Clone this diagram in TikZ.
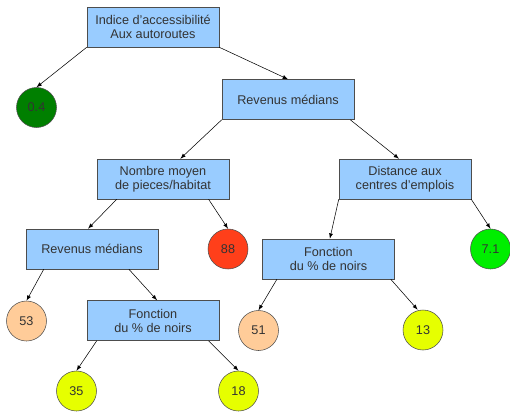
\documentclass[tikz,border=0pt]{standalone}
\usepackage{fontspec}
\setmainfont{Liberation Sans}
\usepackage{xcolor}
\usetikzlibrary{arrows}

\definecolor{boxblue}{HTML}{99CCFF}
\definecolor{linegray}{HTML}{4D4D4D}
\definecolor{textgray}{HTML}{333333}
\definecolor{darkleaf}{HTML}{007F00}
\definecolor{redleaf}{HTML}{FF3F1A}
\definecolor{greenleaf}{HTML}{00EE00}
\definecolor{peachleaf}{HTML}{FFCC99}
\definecolor{yellowleaf}{HTML}{E6FF00}

\tikzset{
  test/.style={draw=linegray, fill=boxblue, text=textgray, minimum width=99pt,
    minimum height=30pt, inner sep=0pt, align=center,
    font=\fontsize{9.5}{10.5}\selectfont},
  leaf/.style={circle, draw=linegray, text=textgray, minimum size=30pt,
    inner sep=0pt, font=\fontsize{9.5}{10.5}\selectfont},
}

\begin{document}
\begin{tikzpicture}[x=0.75pt,y=-0.75pt]
		\useasboundingbox (0,0) rectangle (510,411);
		\node[test] (B1) at (153,27) {Indice d'accessibilité\\Aux autoroutes};
		\node[test] (B2) at (288,99.5) {Revenus médians};
		\node[test] (B3) at (163,179) {Nombre moyen\\de pieces/habitat};
		\node[test] (B4) at (405,179) {Distance aux\\centres d'emplois};
		\node[test] (B5) at (92,249) {Revenus médians};
		\node[test] (B6) at (328.5,259) {Fonction\\du \% de noirs};
		\node[test] (B7) at (153,320.5) {Fonction\\du \% de noirs};
		%
		\node[leaf,fill=darkleaf] (L04) at (36.5,107.5) {0.4};
		\node[leaf,fill=redleaf] (L88) at (228,249) {88};
		\node[leaf,fill=greenleaf] (L71) at (490.5,249) {7.1};
		\node[leaf,fill=peachleaf] (L53) at (26.5,321) {53};
		\node[leaf,fill=peachleaf] (L51) at (258.5,330.5) {51};
		\node[leaf,fill=yellowleaf] (L13) at (423,330) {13};
		\node[leaf,fill=yellowleaf] (L35) at (76.5,391) {35};
		\node[leaf,fill=yellowleaf] (L18) at (238.5,391) {18};
		%
		\path[->,>=latex,thin]
		(B1.south west) edge (L04.north)
		(B1.south east) edge (B2.north)
		(B2.south west) edge ([xshift=13pt]B3.north)
		([xshift=-3pt]B2.south east) edge ([xshift=-4.5pt]B4.north)
		([xshift=15pt]B3.south west) edge ([xshift=-3pt]B5.north)
		([xshift=-15.5pt]B3.south east) edge (L88.north)
		(B4.south west) edge ([xshift=1pt]B6.north)
		(B4.south east) edge (L71.north)
		([xshift=13.5pt]B5.south west) edge (L53.north)
		([xshift=-22pt]B5.south east) edge ([xshift=3pt]B7.north)
		([xshift=11pt]B6.south west) edge (L51.north)
		([xshift=-3pt]B6.south east) edge ([xshift=-4pt]L13.north)
		([xshift=7.5pt]B7.south west) edge (L35.north)
		([xshift=-8pt]B7.south east) edge (L18.north);
		\end{tikzpicture}
\end{document}
